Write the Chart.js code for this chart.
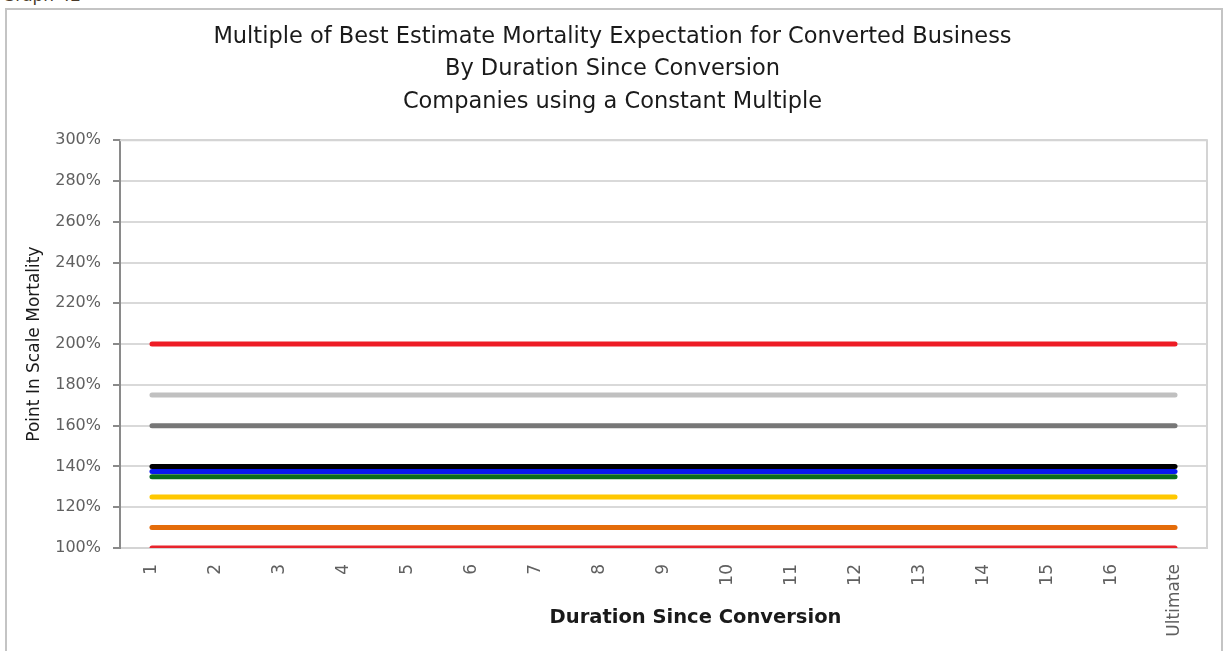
<!DOCTYPE html>
<html>
<head>
<meta charset="utf-8">
<script src="https://cdn.jsdelivr.net/npm/chart.js@4.4.1/dist/chart.umd.min.js"></script>
<style>
  body { margin: 0; background: #fff; overflow: hidden; }
  #frame { position: absolute; left: 5px; top: 8px; width: 1218px; height: 650px; border: 2px solid #c4c4c4; box-sizing: border-box; }
  #cap { position: absolute; left: 2px; top: -15px; font: 17px "DejaVu Sans", sans-serif; color: #4a3a2a; }
  #multChart { position: absolute; left: 0; top: 0; }
</style>
</head>
<body>
<div id="cap">Graph 42</div>
<div id="frame"></div>
<canvas id="multChart" width="1225" height="651"></canvas>
<script>
'use strict'

// categories on the x axis
var durations = ['1', '2', '3', '4', '5', '6', '7', '8', '9', '10', '11', '12', '13', '14', '15', '16', 'Ultimate'];

// one flat multiple per company (percent of best estimate)
var companyA = [200, 200, 200, 200, 200, 200, 200, 200, 200, 200, 200, 200, 200, 200, 200, 200, 200];
var companyB = [175, 175, 175, 175, 175, 175, 175, 175, 175, 175, 175, 175, 175, 175, 175, 175, 175];
var companyC = [160, 160, 160, 160, 160, 160, 160, 160, 160, 160, 160, 160, 160, 160, 160, 160, 160];
var companyD = [140, 140, 140, 140, 140, 140, 140, 140, 140, 140, 140, 140, 140, 140, 140, 140, 140];
var companyE = [137.5, 137.5, 137.5, 137.5, 137.5, 137.5, 137.5, 137.5, 137.5, 137.5, 137.5, 137.5, 137.5, 137.5, 137.5, 137.5, 137.5];
var companyF = [135, 135, 135, 135, 135, 135, 135, 135, 135, 135, 135, 135, 135, 135, 135, 135, 135];
var companyG = [125, 125, 125, 125, 125, 125, 125, 125, 125, 125, 125, 125, 125, 125, 125, 125, 125];
var companyH = [110, 110, 110, 110, 110, 110, 110, 110, 110, 110, 110, 110, 110, 110, 110, 110, 110];
var companyI = [100, 100, 100, 100, 100, 100, 100, 100, 100, 100, 100, 100, 100, 100, 100, 100, 100];

// y axis ticks
var yMin = 100;
var yMax = 300;
var yStep = 20;

var xTitle = 'Duration Since Conversion';

var line = function(values, colour) {
  return {
    data: values,
    borderColor: colour,
    backgroundColor: colour,
    borderWidth: 5,
    borderCapStyle: 'round',
    pointRadius: 0,
    fill: false
  };
};

// light border round the plot area, plus the x axis title (sits right of centre like the original)
var plotBorder = {
  id: 'plotBorder',
  beforeDatasetsDraw: function(chart) {
    var a = chart.chartArea;
    var ctx = chart.ctx;
    ctx.save();
    ctx.strokeStyle = '#d4d4d4';
    ctx.lineWidth = 2;
    ctx.beginPath();
    ctx.moveTo(a.left, a.top);
    ctx.lineTo(a.right, a.top);
    ctx.lineTo(a.right, a.bottom);
    ctx.stroke();
    ctx.restore();
  },
  afterDraw: function(chart) {
    var a = chart.chartArea;
    var ctx = chart.ctx;
    ctx.save();
    ctx.fillStyle = '#1a1a1a';
    ctx.font = 'bold 19.5px "DejaVu Sans"';
    ctx.textAlign = 'center';
    ctx.textBaseline = 'middle';
    ctx.fillText(xTitle, (a.left + a.right) / 2 + 32, a.bottom + 70);
    ctx.restore();
  }
};

var chart = new Chart(document.getElementById('multChart'), {
  type: 'line',
  data: {
    labels: durations,
    datasets: [
      line(companyI, '#e8242c'),
      line(companyH, '#e46c0a'),
      line(companyG, '#ffc800'),
      line(companyF, '#0b6b1c'),
      line(companyE, '#0818f0'),
      line(companyD, '#000000'),
      line(companyC, '#777777'),
      line(companyB, '#c0c0c0'),
      line(companyA, '#ee1c25')
    ]
  },
  options: {
    responsive: false,
    animation: false,
    layout: { padding: { left: 18, right: 18, top: 0, bottom: 14 } },
    plugins: {
      legend: { display: false },
      tooltip: { enabled: false },
      title: {
        display: true,
        text: [
          'Multiple of Best Estimate Mortality Expectation for Converted Business',
          'By Duration Since Conversion',
          'Companies using a Constant Multiple'
        ],
        color: '#1a1a1a',
        font: { family: 'DejaVu Sans', size: 22.5, weight: 'normal', lineHeight: 1.44 },
        padding: { top: 21, bottom: 22 }
      }
    },
    scales: {
      x: {
        offset: true,
        grid: { display: false },
        border: { display: true, color: '#d4d4d4', width: 2 },
        ticks: {
          color: '#606060',
          font: { family: 'DejaVu Sans', size: 17 },
          minRotation: 90,
          maxRotation: 90,
          padding: 8,
          autoSkip: false
        },
        afterFit: function(scale) { scale.height = 89; }
      },
      y: {
        min: yMin,
        max: yMax,
        grid: { color: '#d9d9d9', lineWidth: 2, tickColor: '#8a8a8a', tickLength: 7 },
        border: { display: true, color: '#8a8a8a', width: 2 },
        ticks: {
          stepSize: yStep,
          color: '#606060',
          font: { family: 'DejaVu Sans', size: 16 },
          padding: 12,
          callback: function(v) { return v + '%'; }
        },
        title: {
          display: true,
          text: 'Point In Scale Mortality',
          color: '#1a1a1a',
          font: { family: 'DejaVu Sans', size: 17, weight: 'normal' },
          padding: { top: 6, bottom: 0 }
        },
        afterFit: function(scale) { scale.width = 102; }
      }
    }
  },
  plugins: [plotBorder]
});
</script>
</body>
</html>
